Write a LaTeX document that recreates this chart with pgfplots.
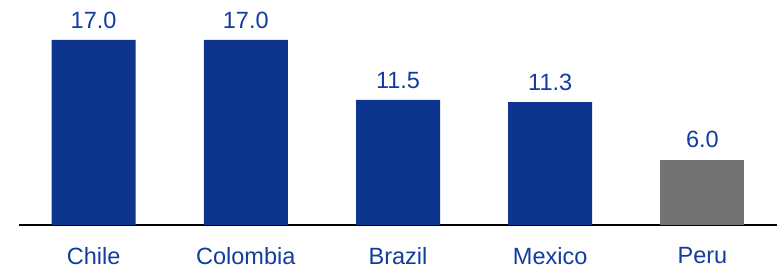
\documentclass[border=0pt]{standalone}
\usepackage{pgfplots}
\pgfplotsset{compat=1.18}
\usepackage{fontspec}
\setmainfont{Liberation Sans}
\definecolor{barblue}{RGB}{13,52,142}
\definecolor{bargray}{RGB}{115,115,115}
\definecolor{txtblue}{RGB}{18,60,160}
\begin{document}
\begin{tikzpicture}
\useasboundingbox (0,0) rectangle (777bp,270bp);
\begin{axis}[
  at={(19bp,45bp)}, anchor=south west,
  scale only axis, width=758bp, height=185bp,
  xmin=-0.49, xmax=4.49, ymin=0, ymax=17,
  axis y line=none,
  axis x line*=bottom,
  x axis line style={line width=1.2pt, -},
  xtick={0,1,2,3,4},
  xticklabels={Chile,Colombia,Brazil,Mexico,Peru},
  major tick length=0pt,
  xticklabel style={font=\fontsize{23.5bp}{26bp}\selectfont, text=txtblue, yshift=-19bp},
  ybar, bar width=84bp, bar shift=0pt,
  clip=false,
  nodes near coords,
  /pgf/number format/fixed, /pgf/number format/fixed zerofill, /pgf/number format/precision=1, /pgf/number format/assume math mode=true,
  nodes near coords style={font=\fontsize{23.5bp}{26bp}\selectfont, text=txtblue, yshift=8bp},
]
\addplot[fill=barblue, draw=none] coordinates {(0,17.0) (1,17.0) (2,11.5) (3,11.3)};
\addplot[fill=bargray, draw=none] coordinates {(4,6.0)};
\end{axis}
\end{tikzpicture}
\end{document}
